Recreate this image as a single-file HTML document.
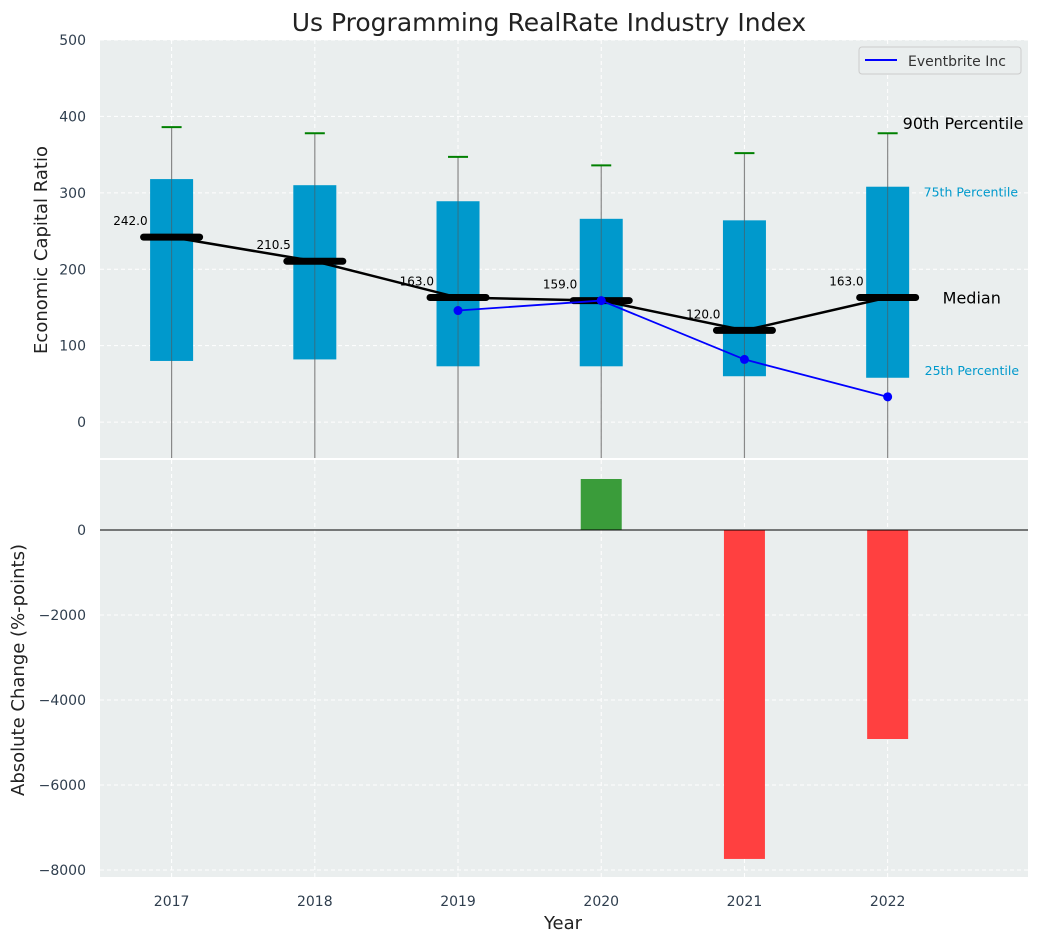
<!DOCTYPE html>
<html><head><meta charset="utf-8">
<style>
body{margin:0;background:#fff;font-family:"DejaVu Sans","Liberation Sans",sans-serif;}
svg text{font-family:"DejaVu Sans","Liberation Sans",sans-serif;}
</style></head>
<body>
<svg id="chart" width="1039" height="942" xmlns="http://www.w3.org/2000/svg"></svg>
<script>
const years = [2017, 2018, 2019, 2020, 2021, 2022];
const p25 = [80, 82, 73, 73, 60, 58];
const p75 = [318, 310, 289, 266, 264, 308];
const p90 = [386, 378, 347, 336, 352, 378];
const medians = [242, 210.5, 163, 159, 120, 163];
const companyYears = [2019, 2020, 2021, 2022];
const companyValues = [146, 159, 82, 33];
const changes = [0, 0, 0, 1200, -7740, -4918];
const topTicks = [0, 100, 200, 300, 400, 500];
const bottomTicks = [0, -2000, -4000, -6000, -8000];

const svg = document.getElementById('chart');
const NS = 'http://www.w3.org/2000/svg';
function mk(tag, attrs, parent){const e=document.createElementNS(NS,tag);for(const k in attrs)e.setAttribute(k,attrs[k]);(parent||svg).appendChild(e);return e;}
const L=100,R=1028;
const X0=2016.5,X1=2022.98;
const xs=v=>L+(v-X0)/(X1-X0)*(R-L);
const T0=40,T1=458,TY0=-47,TY1=500;
const yt=v=>T1-(v-TY0)/(TY1-TY0)*(T1-T0);
const B0=460,B1=877,BY0=-8165,BY1=1647;
const yb=v=>B1-(v-BY0)/(BY1-BY0)*(B1-B0);

let e=mk('rect',{x:L,y:T0,width:R-L,height:T1-T0,fill:'#eaeeee'});


e=mk('rect',{x:L,y:B0,width:R-L,height:B1-B0,fill:'#eaeeee'});



years.forEach(y=>{
  mk('line',{x1:xs(y),x2:xs(y),y1:T0,y2:T1,stroke:'#fff','stroke-dasharray':'4,3','stroke-width':1});
  mk('line',{x1:xs(y),x2:xs(y),y1:B0,y2:B1,stroke:'#fff','stroke-dasharray':'4,3','stroke-width':1});
});
topTicks.forEach(t=>{
  mk('line',{x1:L,x2:R,y1:yt(t),y2:yt(t),stroke:'#fff','stroke-dasharray':'4,3'});
  const tx=mk('text',{x:L-14,y:yt(t)+5,'text-anchor':'end','font-size':14,fill:'#2f3e4e'});tx.textContent=t;
  
  
});
bottomTicks.forEach(t=>{
  mk('line',{x1:L,x2:R,y1:yb(t),y2:yb(t),stroke:'#fff','stroke-dasharray':'4,3'});
  const tx=mk('text',{x:L-14,y:yb(t)+5,'text-anchor':'end','font-size':14,fill:'#2f3e4e'});tx.textContent=(t<0?'\u2212'+(-t):t);
  
  
});

years.forEach((y,i)=>{
  const x=xs(y);
  let w=mk('line',{x1:x,x2:x,y1:yt(p90[i]),y2:T1,stroke:'#888','stroke-width':1.2});
  
  
  let b=mk('rect',{x:x-21.5,y:yt(p75[i]),width:43,height:yt(p25[i])-yt(p75[i]),fill:'#0099cc'});
  
  
  mk('line',{x1:x,x2:x,y1:yt(p75[i]),y2:yt(p25[i]),stroke:'#555','stroke-width':1,opacity:0.6});
  let c=mk('line',{x1:x-10,x2:x+10,y1:yt(p90[i]),y2:yt(p90[i]),stroke:'green','stroke-width':2});
  
  
});
let pts=years.map((y,i)=>xs(y)+','+yt(medians[i])).join(' ');
e=mk('polyline',{points:pts,fill:'none',stroke:'#000','stroke-width':2.5});


years.forEach((y,i)=>{
  const x=xs(y);
  let m=mk('line',{x1:x-28,x2:x+28,y1:yt(medians[i]),y2:yt(medians[i]),stroke:'#000','stroke-width':7,'stroke-linecap':'round'});
  
  
  let t=mk('text',{x:x-24,y:yt(medians[i])-12,'text-anchor':'end','font-size':12,fill:'#000'});
  t.textContent=medians[i].toFixed(1);
  
  
});
pts=companyYears.map((y,i)=>xs(y)+','+yt(companyValues[i])).join(' ');
e=mk('polyline',{points:pts,fill:'none',stroke:'blue','stroke-width':1.8});


companyYears.forEach((y,i)=>{
  let p=mk('circle',{cx:xs(y),cy:yt(companyValues[i]),r:4.5,fill:'blue'});
  
  
});
const last=years.length-1, lx=xs(years[last]);
function ann(txt,x,y,size,col,name){const t=mk('text',{x:x,y:y,'font-size':size,fill:col});t.textContent=txt;}
ann('90th Percentile',lx+15,yt(p90[last])-4,16,'#000','p90-annotation');
ann('75th Percentile',lx+36,yt(p75[last])+10,12.5,'#0099cc','p75-annotation');
ann('Median',lx+55,yt(medians[last])+6,16,'#000','median-annotation');
ann('25th Percentile',lx+37,yt(p25[last])-3,12.5,'#0099cc','p25-annotation');
const lg=mk('g',{});


mk('rect',{x:859,y:47,width:162,height:27,rx:3,fill:'#eaeeee',stroke:'#ccc'},lg);
mk('line',{x1:865,x2:897,y1:60,y2:60,stroke:'blue','stroke-width':2},lg);
const lt=mk('text',{x:908,y:66,'font-size':14,fill:'#333'},lg);lt.textContent='Eventbrite Inc';

years.forEach((y,i)=>{
  if(!changes[i])return;
  const v=changes[i];
  let r=mk('rect',{x:xs(y)-20.5,y:Math.min(yb(v),yb(0)),width:41,height:Math.abs(yb(v)-yb(0)),fill:v>0?'#3a9c3a':'#ff4040'});
  
  
});
e=mk('line',{x1:L,x2:R,y1:yb(0),y2:yb(0),stroke:'#000','stroke-width':1});



years.forEach(y=>{
  const t=mk('text',{x:xs(y),y:906,'text-anchor':'middle','font-size':14,fill:'#2f3e4e'});t.textContent=y;
  
  
});
let t=mk('text',{x:549,y:31,'text-anchor':'middle','font-size':25,fill:'#222'});t.textContent='Us Programming RealRate Industry Index';


t=mk('text',{x:563,y:929,'text-anchor':'middle','font-size':18,fill:'#222'});t.textContent='Year';


t=mk('text',{x:0,y:0,'text-anchor':'middle','font-size':18,fill:'#222',transform:'translate(47,250) rotate(-90)'});t.textContent='Economic Capital Ratio';


t=mk('text',{x:0,y:0,'text-anchor':'middle','font-size':18,fill:'#222',transform:'translate(24,670) rotate(-90)'});t.textContent='Absolute Change (%-points)';


</script>
</body></html>
